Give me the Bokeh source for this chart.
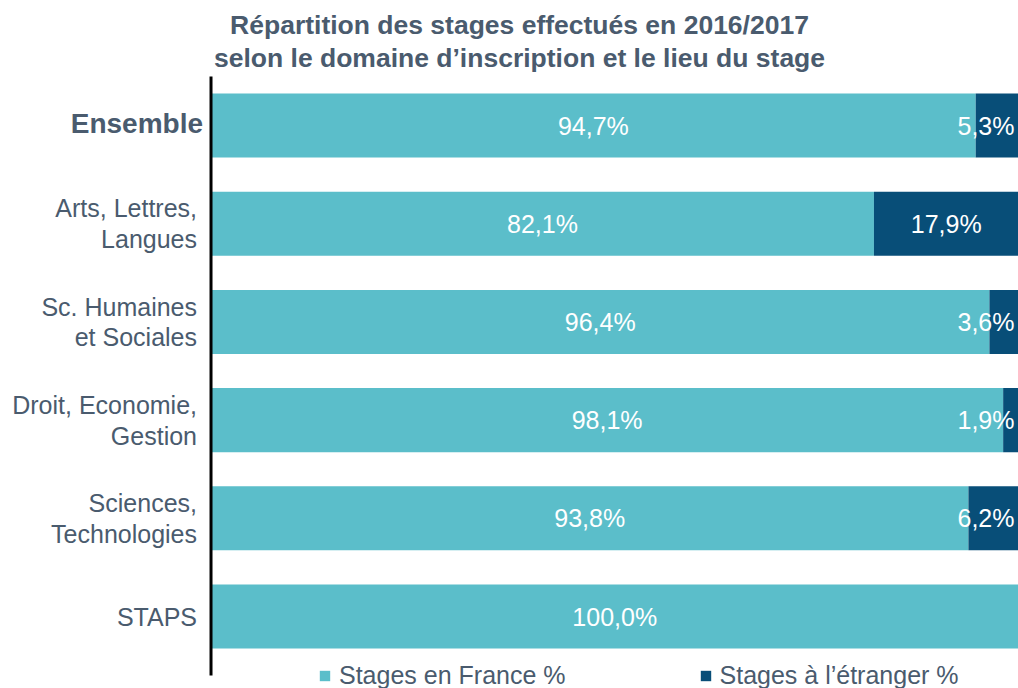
from bokeh.plotting import figure
from bokeh.models import ColumnDataSource, Range1d, Label, Legend, LegendItem
from bokeh.core.properties import value
from bokeh.embed import file_html
from bokeh.resources import INLINE

# ---- data ----
categories = ["Ensemble", "Arts, Lettres,\nLangues", "Sc. Humaines\net Sociales",
              "Droit, Economie,\nGestion", "Sciences,\nTechnologies", "STAPS"]
france = [94.7, 82.1, 96.4, 98.1, 93.8, 100.0]
etranger = [5.3, 17.9, 3.6, 1.9, 6.2, 0.0]
series_names = ["Stages en France %", "Stages à l’étranger %"]
title_lines = ["Répartition des stages effectués en 2016/2017",
               "selon le domaine d’inscription et le lieu du stage"]

LIGHT = "#5BBECA"
DARK = "#084E78"
TXT = "#4A5B6E"
FONT = "Liberation Sans"

def fmt(v):
    return f"{v:.1f}".replace(".", ",") + "%"

idx = list(range(len(categories)))
fr_end = [f + e for f, e in zip(france, etranger)]
src = ColumnDataSource(dict(
    y=idx, fr=france, et=etranger, fr_end=fr_end,
    zero=[0] * len(idx),
    fr_mid=[f / 2 for f in france],
    fr_lab=[fmt(f) for f in france],
))
# abroad labels: centred in wide segments, pushed against the right edge for narrow ones
wide = [i for i in idx if etranger[i] >= 10]
narrow = [i for i in idx if 0 < etranger[i] < 10]
src_wide = ColumnDataSource(dict(
    y=wide, x=[france[i] + etranger[i] / 2 for i in wide],
    lab=[fmt(etranger[i]) for i in wide]))
src_narrow = ColumnDataSource(dict(
    y=narrow, x=[france[i] + etranger[i] for i in narrow],
    lab=[fmt(etranger[i]) for i in narrow]))

W, H = 1018, 688
p = figure(width=W, height=H, output_backend="svg", toolbar_location=None,
           x_range=Range1d(-26.07, 100.0), y_range=Range1d(5.733, -1.273),
           min_border=0, min_border_left=0, min_border_right=0,
           min_border_top=0, min_border_bottom=0)
p.xaxis.visible = False
p.yaxis.visible = False
p.grid.visible = False
p.outline_line_color = None
p.background_fill_color = "white"

r1 = p.hbar(y="y", left="zero", right="fr", height=0.652, source=src,
            fill_color=LIGHT, line_color=None)
r2 = p.hbar(y="y", left="fr", right="fr_end", height=0.652, source=src,
            fill_color=DARK, line_color=None)

# axis line
p.segment(x0=[0], y0=[-0.5], x1=[0], y1=[5.6], line_color="black", line_width=3)

# value labels
common = dict(text_color="white", text_font=value(FONT), text_font_size="25px",
              text_baseline="middle")
p.text(x="fr_mid", y="y", text="fr_lab", source=src, text_align="center", **common)
p.text(x="x", y="y", text="lab", source=src_wide, text_align="center", **common)
p.text(x="x", y="y", text="lab", source=src_narrow, text_align="right",
       x_offset=-4, **common)

# category labels
src_cat = ColumnDataSource(dict(y=idx[1:], cat=categories[1:], zero=[0] * (len(idx) - 1)))
p.text(x="zero", y="y", text="cat", source=src_cat, text_color=TXT,
       text_font=value(FONT), text_font_size="25px", text_align="right",
       text_baseline="middle", text_line_height=1.1, x_offset=-14)
src_ens = ColumnDataSource(dict(y=idx[:1], cat=categories[:1], zero=[0]))
p.text(x="zero", y="y", text="cat", source=src_ens, text_color=TXT,
       text_font=value(FONT), text_font_size="28px", text_font_style="bold",
       text_align="right", text_baseline="middle", x_offset=-8, y_offset=-2)

# title
for ypos, t in zip([664, 631], title_lines):
    p.add_layout(Label(x=519, y=ypos, x_units="screen", y_units="screen", text=t,
                       text_font=FONT, text_font_size="26.5px", text_font_style="bold",
                       text_color=TXT, text_align="center", text_baseline="middle"))

legend = Legend(items=[LegendItem(label=series_names[0], renderers=[r1]),
                       LegendItem(label=series_names[1], renderers=[r2])],
                orientation="horizontal", location=(318, -2),
                glyph_width=13, glyph_height=13, label_standoff=8, spacing=133,
                padding=0, margin=0, border_line_alpha=0, background_fill_alpha=0,
                label_text_font=FONT, label_text_font_size="25px",
                label_text_color=TXT, label_height=25)
p.add_layout(legend)

open("out.html", "w").write(file_html(p, INLINE))
